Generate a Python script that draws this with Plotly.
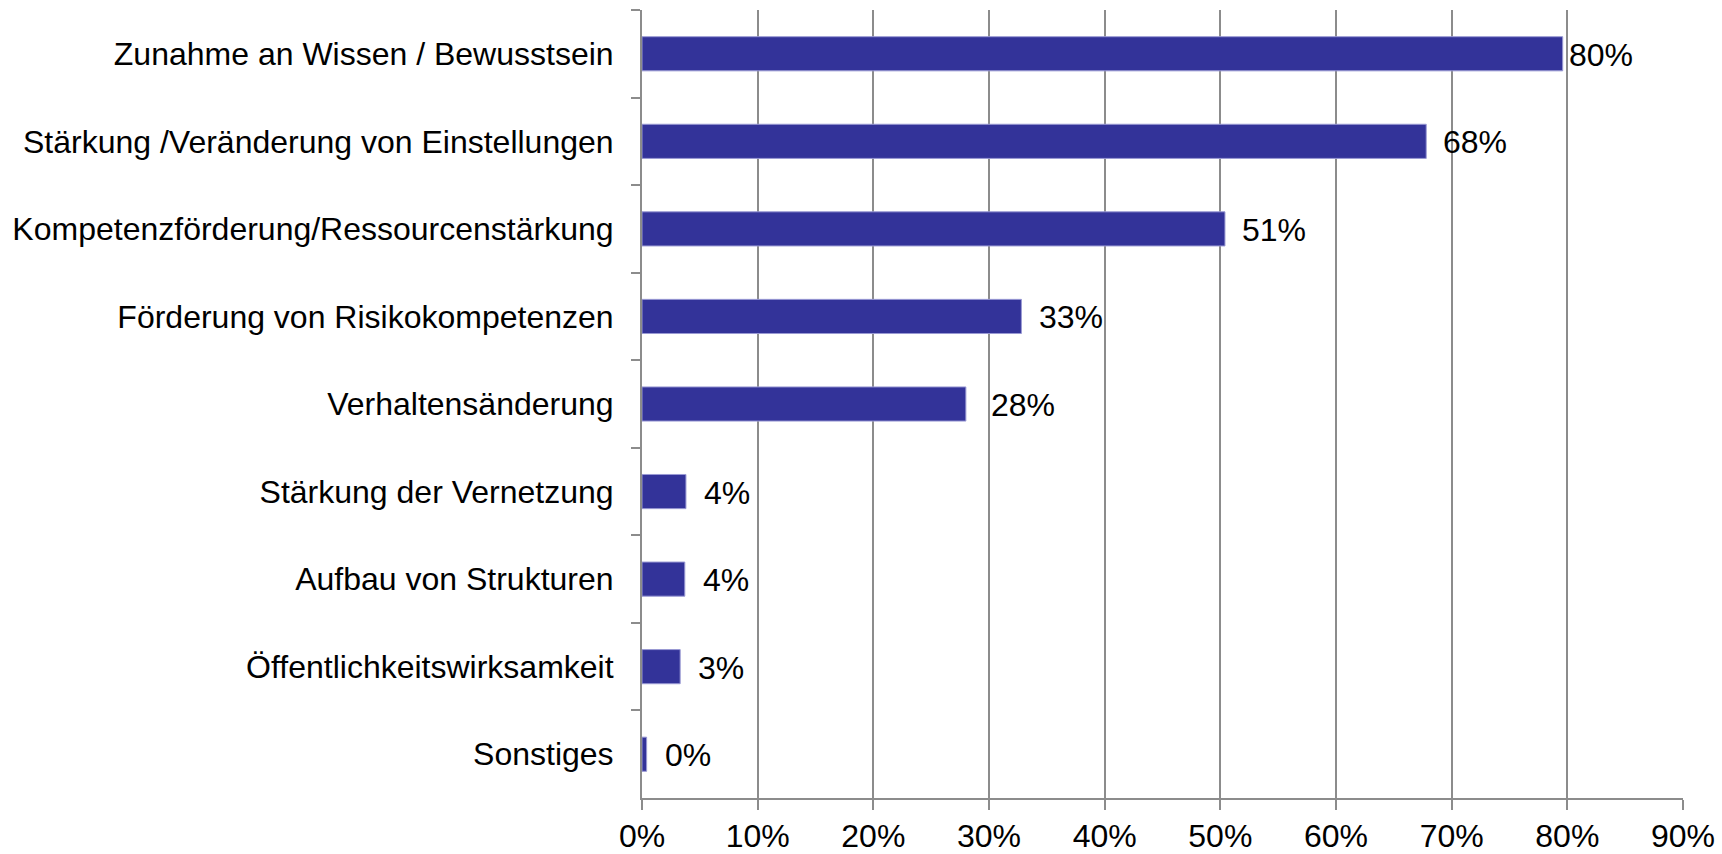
import plotly.graph_objects as go

categories = [
    "Zunahme an Wissen / Bewusstsein",
    "Stärkung /Veränderung von Einstellungen",
    "Kompetenzförderung/Ressourcenstärkung",
    "Förderung von Risikokompetenzen",
    "Verhaltensänderung",
    "Stärkung der Vernetzung",
    "Aufbau von Strukturen",
    "Öffentlichkeitswirksamkeit",
    "Sonstiges",
]
values = [79.6, 67.8, 50.4, 32.8, 28.0, 3.8, 3.7, 3.3, 0.4]
value_labels = ["80%", "68%", "51%", "33%", "28%", "4%", "4%", "3%", "0%"]
label_shift = [4, 15, 15, 16, 23, 16, 16, 16, 16]

tick_vals = [0, 10, 20, 30, 40, 50, 60, 70, 80, 90]
tick_text = ["0%", "10%", "20%", "30%", "40%", "50%", "60%", "70%", "80%", "90%"]

FONT = "Liberation Sans, Arial, sans-serif"
GRID = "#8c8c8c"
FS = 32

fig = go.Figure()
fig.add_trace(go.Bar(
    x=values, y=categories, orientation="h",
    marker=dict(color="#333399", line=dict(color="#9a9ad4", width=1)),
    hoverinfo="x+y",
))

for c, v, t, s in zip(categories, values, value_labels, label_shift):
    fig.add_annotation(x=v, y=c, text=t, showarrow=False, xanchor="left",
                       yanchor="middle", xshift=s, yshift=-1,
                       font=dict(family=FONT, size=FS, color="#000000"))

fig.update_layout(
    width=1722, height=854,
    margin=dict(l=642, r=39, t=10, b=56),
    plot_bgcolor="white", paper_bgcolor="white",
    bargap=0.61, showlegend=False,
    font=dict(family=FONT, size=FS, color="#000000"),
)
fig.update_xaxes(
    range=[0, 90], tickvals=tick_vals, ticktext=tick_text,
    showgrid=True, gridcolor=GRID, gridwidth=2,
    showline=True, linecolor=GRID, linewidth=2,
    ticks="outside", ticklen=10, tickwidth=2, tickcolor=GRID,
    ticklabelstandoff=-1, zeroline=False, fixedrange=True, automargin=False,
    tickfont=dict(family=FONT, size=FS, color="#000000"),
)
fig.update_yaxes(
    autorange="reversed", showgrid=False,
    showline=True, linecolor=GRID, linewidth=2,
    ticks="outside", ticklen=9, tickwidth=2, tickcolor=GRID,
    tickson="boundaries", ticklabelstandoff=20, fixedrange=True, automargin=False,
    tickfont=dict(family=FONT, size=FS, color="#000000"),
)

fig.write_html(
    "out.html",
    config={"displayModeBar": False},
    post_script="document.body.style.margin='0';document.body.style.overflow='hidden';",
)
